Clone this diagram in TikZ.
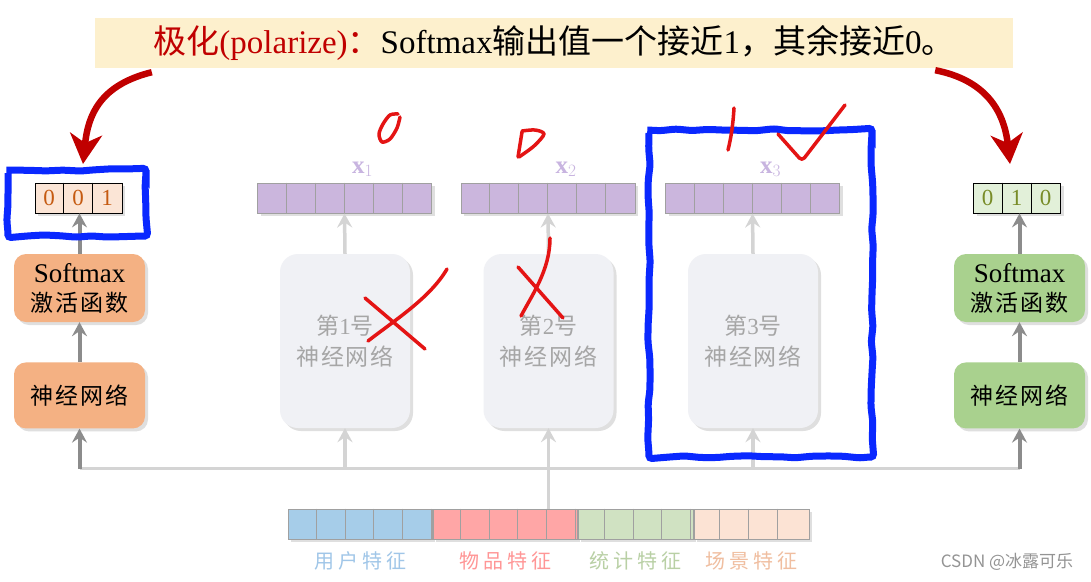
\documentclass[tikz,border=0pt]{standalone}
\usepackage{fontspec}
\setmainfont{Liberation Serif}
\newfontfamily\cjk{Noto Sans CJK SC}
\newfontfamily\cjkwide{Noto Sans CJK SC}[LetterSpace=8]
\newfontfamily\cjkfeat{Noto Sans CJK SC}[LetterSpace=20]
\usetikzlibrary{arrows.meta, positioning, shadows, calc, decorations.pathmorphing}
\definecolor{bannerbg}{RGB}{253, 240, 205}
\definecolor{darkred}{RGB}{192, 0, 0}
\definecolor{orangebox}{RGB}{244, 177, 131}
\definecolor{orangecell}{RGB}{251, 229, 214}
\definecolor{orangetext}{RGB}{197, 90, 17}
\definecolor{greenbox}{RGB}{169, 209, 142}
\definecolor{greencell}{RGB}{226, 240, 217}
\definecolor{greentext}{RGB}{120, 140, 40}
\definecolor{netfill}{RGB}{240, 241, 245}
\definecolor{nettext}{RGB}{166, 166, 166}
\definecolor{purplecell}{RGB}{203, 182, 221}
\definecolor{purpletext}{RGB}{200, 180, 224}
\definecolor{featblue}{RGB}{166, 205, 233}
\definecolor{featred}{RGB}{255, 166, 166}
\definecolor{featgreen}{RGB}{208, 226, 194}
\definecolor{featpeach}{RGB}{252, 227, 212}
\definecolor{lblblue}{RGB}{160, 198, 232}
\definecolor{lblred}{RGB}{255, 150, 150}
\definecolor{lblgreen}{RGB}{185, 208, 165}
\definecolor{lblpeach}{RGB}{240, 190, 160}
\definecolor{penblue}{RGB}{10, 40, 255}
\definecolor{penred}{RGB}{228, 20, 20}
\definecolor{arrowgray}{RGB}{140, 140, 140}
\definecolor{linegray}{RGB}{212, 212, 212}
\definecolor{cellgray}{RGB}{160, 160, 160}

\begin{document}
\begin{tikzpicture}[
    x=1pt, y=-1pt,
    softshadow/.style={drop shadow={shadow xshift=3pt, shadow yshift=-3pt, opacity=0.25}},
    banner/.style={fill=bannerbg, minimum width=918pt, minimum height=50pt, inner sep=0pt,
        font=\fontsize{33}{36}\selectfont},
    outbox/.style={rounded corners=12pt, minimum width=131pt, align=center, inner sep=2pt,
        font=\fontsize{23}{29}\selectfont, text=black, softshadow},
    netbox/.style={rounded corners=18pt, fill=netfill, minimum width=130pt, minimum height=174pt,
        align=center, text=nettext, font=\fontsize{23}{31}\selectfont, softshadow},
    cellbar/.style={draw=black, line width=0.8pt, minimum width=87pt, minimum height=30pt,
        inner sep=0pt, softshadow},
    vecbar/.style={draw=cellgray, line width=1pt, fill=purplecell, minimum width=174pt,
        minimum height=30pt, inner sep=0pt, softshadow},
    featbar/.style={draw=cellgray, line width=1pt, minimum height=30pt, inner sep=0pt, softshadow},
    digit/.style={font=\fontsize{23}{23}\selectfont},
    veclabel/.style={text=purpletext, font=\fontsize{25}{25}\selectfont},
    featlabel/.style={font=\fontsize{20}{24}\selectfont\cjkfeat},
    grayarrow/.style={-{Stealth[length=14pt, width=15pt, inset=5pt]}, arrowgray, line width=4pt},
    lightarrow/.style={-{Stealth[length=14pt, width=15pt, inset=5pt]}, linegray, line width=3.5pt},
    lightline/.style={linegray, line width=3.5pt},
    redarrow/.style={-{Stealth[length=30pt, width=32pt, inset=9pt]}, darkred, line width=6.5pt},
    penline/.style={penred, line width=3.5pt, line cap=round, line join=round},
    penbox/.style={penblue, line width=7pt, rounded corners=3pt, decorate,
        decoration={random steps, segment length=16pt, amplitude=1.3pt}}
]
\fill[white] (0,0) rectangle (1091,581);
\useasboundingbox (0,0) rectangle (1091,581);

% TITLE - banner
\node[banner] (title) at (554,43) {{\color{darkred}{\cjk 极化}(polarize){\cjk ：}}Softmax{\cjk 输出值一个接近}1{\cjk ，其余接近}0{\cjk 。}};

% LEFT - polarized output
\node[cellbar, fill=orangecell] (outL) at (78.5,198) {};
\foreach \v [count=\i] in {0,0,1}
    \node[digit, text=orangetext] (dL\i) at ($(outL.west)+(29*\i-14.5,0)$) {\v};
\foreach \k in {1,2}
    \draw[line width=0.8pt] ($(outL.north west)+(29*\k,0)$) -- ($(outL.south west)+(29*\k,0)$);
\node[outbox, fill=orangebox, minimum height=68pt] (smL) at (79.5,288)
    {{\fontsize{27}{29}\selectfont Softmax}\\{\cjkwide 激活函数}};
\node[outbox, fill=orangebox, minimum height=66pt, below=40pt of smL] (nnL) {{\cjkwide 神经网络}};

% RIGHT - softmax output
\node[cellbar, fill=greencell] (outR) at (1017,198) {};
\foreach \v [count=\i] in {0,1,0}
    \node[digit, text=greentext] (dR\i) at ($(outR.west)+(29*\i-14.5,0)$) {\v};
\foreach \k in {1,2}
    \draw[line width=0.8pt] ($(outR.north west)+(29*\k,0)$) -- ($(outR.south west)+(29*\k,0)$);
\node[outbox, fill=greenbox, minimum height=68pt] (smR) at (1019.5,288)
    {{\fontsize{27}{29}\selectfont Softmax}\\{\cjkwide 激活函数}};
\node[outbox, fill=greenbox, minimum height=66pt, below=40pt of smR] (nnR) {{\cjkwide 神经网络}};

% Arrows in the side columns
\draw[grayarrow] (nnL.north) -- (smL.south);
\draw[grayarrow] (smL.north) -- (smL.north |- outL.south);
\draw[grayarrow] (nnR.north) -- (smR.south);
\draw[grayarrow] (smR.north) -- (smR.north |- outR.south);

% FEATURES - bottom
\node[featbar, fill=featblue, minimum width=144pt] (fU) at (360,524) {};
\node[featbar, fill=featred, minimum width=144pt, right=0pt of fU] (fI) {};
\node[featbar, fill=featgreen, minimum width=115.2pt, right=0pt of fI] (fS) {};
\node[featbar, fill=featpeach, minimum width=115.2pt, right=0pt of fS] (fC) {};
\foreach \k in {1,...,17}
    \draw[cellgray, line width=1pt] ($(fU.north west)+(28.8*\k,0)$) -- ($(fU.south west)+(28.8*\k,0)$);
\node[featlabel, text=lblblue, below=9pt of fU] (lU) {用户特征};
\node[featlabel, text=lblred, below=9pt of fI] (lI) {物品特征};
\node[featlabel, text=lblgreen, below=9pt of fS] (lS) {统计特征};
\node[featlabel, text=lblpeach, below=9pt of fC] (lC) {场景特征};

% Bus line from the features
\coordinate (featTop) at ($(fU.north west)!0.5!(fC.north east)$);
\coordinate (bus) at ($(featTop)+(0,-40)$);
\coordinate (busL) at (nnL.south |- bus);
\coordinate (busR) at (nnR.south |- bus);
\draw[lightline] (busL) -- (busR);
\draw[lightline] (featTop) -- (bus);
\draw[grayarrow] (busL) -- (nnL.south);
\draw[grayarrow] (busR) -- (nnR.south);

% MIDDLE - three networks
\foreach \n/\cx in {1/345, 2/548.5, 3/753} {
    \node[netbox] (net\n) at (\cx,341) {{\cjk 第}\n{\cjk 号}\\{\cjkwide 神经网络}};
    \node[vecbar] (x\n) at (\cx-0.5,198) {};
    \foreach \k in {1,...,5}
        \draw[cellgray, line width=1pt] ($(x\n.north west)+(29*\k,0)$) -- ($(x\n.south west)+(29*\k,0)$);
    \node[veclabel, above=2pt of x\n, xshift=18pt] (lx\n) {$\mathbf{x}_\n$};
    \draw[lightarrow] (net\n.north) -- (x\n.south);
    \draw[lightarrow] (net\n.south |- bus) -- (net\n.south);
}

% Red arrows from the title
\coordinate (tipL) at (83,164);
\coordinate (tipR) at (1010,164);
\draw[redarrow] ([xshift=57pt, yshift=-4pt]title.south west) .. controls (100,85) and (88,115) .. (tipL);
\draw[redarrow] ([xshift=-78pt, yshift=-2pt]title.south east) .. controls (985,80) and (1004,110) .. (tipR);

% Hand-drawn marks
\draw[penbox] (8,170) rectangle (146,236);
\draw[penbox] (649,130) rectangle (872,457);
\draw[penline] plot[smooth] coordinates {(398,114) (390,115) (383,124) (379,134) (382,142) (390,139) (397,128) (400,117)};
\draw[penline] (522,132) -- (518,157);
\draw[penline] plot[smooth] coordinates {(522,131) (535,130) (544,134) (534,146) (519,157)};
\draw[penline] (734,108) .. controls (733,125) and (731,138) .. (728,150);
\draw[penline, rounded corners=4pt] (778,134) -- (802,161) -- (845,105);
\draw[penline] (365,298) -- (425,349);
\draw[penline] (368,341) .. controls (395,320) and (430,298) .. (447,269);
\draw[penline] (518,267) -- (563,318);
\draw[penline] (550,238) .. controls (550,270) and (532,295) .. (521,316);

% Watermark
\node[text=black!42, font=\fontsize{17}{17}\selectfont\cjk] (mark) at (1007,562) {CSDN @冰露可乐};
\end{tikzpicture}
\end{document}
